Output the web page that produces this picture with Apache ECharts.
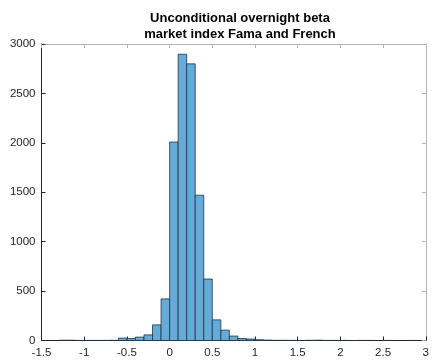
<!DOCTYPE html>
<html>
<head>
<meta charset="utf-8">
<script src="https://cdn.jsdelivr.net/npm/echarts@6/dist/echarts.min.js"></script>
<style>
html,body{margin:0;padding:0;background:#fff;}
#c{width:432px;height:363px;}
</style>
</head>
<body>
<div id="c"></div>
<script>
// Histogram bins (lower edges) and counts, bin width 0.1
var binWidth = 0.1;
var binLower = [-1.3,-1.2,-1.1,-1.0,-0.9,-0.8,-0.7,-0.6,-0.5,-0.4,-0.3,-0.2,-0.1,0.0,0.1,0.2,0.3,0.4,0.5,0.6,0.7,0.8,0.9,1.0,1.1,1.2,1.3,1.4,1.5,1.6,1.7,1.8,1.9,2.0,2.1,2.2,2.3,2.4,2.5,2.6,2.7,2.8];
var counts   = [3,3,1,1,1,1,2,24,20,34,57,158,421,2008,2896,2799,1470,622,209,105,45,20,15,8,4,2,2,1,1,2,3,1,1,1,0,1,1,0,1,0,0,1];
var xTicks = [-1.5,-1,-0.5,0,0.5,1,1.5,2,2.5,3];
var yTicks = [0,500,1000,1500,2000,2500,3000];
var titleLines = ['Unconditional overnight beta','market index Fama and French'];

var data = binLower.map(function(x,i){ return [x, x + binWidth, counts[i]]; });

var chart = echarts.init(document.getElementById('c'), null, {renderer:'canvas'});
var axisCol = '#262626';
var boxCol = '#b4b4b4';
var font = 'Liberation Sans, Arial, Helvetica, sans-serif';
function axisCommon(col, extra){
  var o = {
    axisLine:{show:true, onZero:false, lineStyle:{color:col,width:1}},
    axisTick:{show:true, inside:true, length:4, lineStyle:{color:col}},
    splitLine:{show:false}
  };
  for (var k in extra) o[k] = extra[k];
  return o;
}
chart.setOption({
  animation:false,
  backgroundColor:'#ffffff',
  title:{
    text: titleLines.join('\n'),
    left: 235, top: 5, textAlign:'center',
    textStyle:{fontFamily:font, fontSize:13, fontWeight:'bold', color:'#000', lineHeight:16}
  },
  grid:{left:41.5, right:4.5, top:44, bottom:22.5, show:false},
  xAxis:[axisCommon(axisCol, {
    type:'value', min:-1.5, max:3, interval:0.5,
    axisLabel:{color:axisCol, fontFamily:font, fontSize:11.5, margin:6,
      formatter:function(v){ return String(v); }}
  }), axisCommon(boxCol, {
    type:'value', position:'top', min:-1.5, max:3, interval:0.5,
    axisLabel:{show:false}
  })],
  yAxis:[axisCommon(axisCol, {
    type:'value', min:0, max:3000, interval:500,
    axisLabel:{color:axisCol, fontFamily:font, fontSize:11.5, margin:6,
      formatter:function(v){ return String(v); }}
  }), axisCommon(boxCol, {
    type:'value', position:'right', min:0, max:3000, interval:500,
    axisLabel:{show:false}
  })],
  series:[{
    type:'custom',
    xAxisIndex:0, yAxisIndex:0,
    encode:{x:[0,1], y:2},
    data:data,
    renderItem:function(params, api){
      var p0 = api.coord([api.value(0), api.value(2)]);
      var p1 = api.coord([api.value(1), 0]);
      if (api.value(2) <= 0) return null;
      return {
        type:'rect',
        shape:{x:p0[0], y:p0[1], width:p1[0]-p0[0], height:p1[1]-p0[1]},
        style:{fill:'#66AAD7', stroke:'#1f3446', lineWidth:0.8}
      };
    }
  }]
});
</script>
</body>
</html>
